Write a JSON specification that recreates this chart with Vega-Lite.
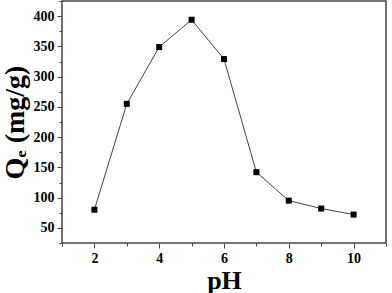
{
  "$schema": "https://vega.github.io/schema/vega-lite/v6.json",
  "width": 324,
  "height": 242,
  "autosize": "none",
  "padding": {"left": 62, "top": 1, "right": 6, "bottom": 50},
  "background": "white",
  "config": {
    "view": {"stroke": "#444444", "strokeWidth": 1.5},
    "font": "Liberation Serif"
  },
  "data": {"values": [
    {"pH": 2, "Qe": 80},
    {"pH": 3, "Qe": 255},
    {"pH": 4, "Qe": 349},
    {"pH": 5, "Qe": 394},
    {"pH": 6, "Qe": 329},
    {"pH": 7, "Qe": 142},
    {"pH": 8, "Qe": 95},
    {"pH": 9, "Qe": 82},
    {"pH": 10, "Qe": 72}
  ]},
  "layer": [
    {
      "mark": {"type": "line", "color": "#444444", "strokeWidth": 1},
      "encoding": {
        "x": {"field": "pH", "type": "quantitative", "scale": {"domain": [1, 11], "nice": false},
          "axis": {"orient": "bottom", "values": [1, 3, 5, 7, 9, 11], "labels": false, "title": null, "grid": false, "domain": false, "tickSize": 3, "tickColor": "#444444", "tickWidth": 1}},
        "y": {"field": "Qe", "type": "quantitative", "scale": {"domain": [25, 425], "nice": false, "zero": false},
          "axis": {"orient": "left", "values": [25, 75, 125, 175, 225, 275, 325, 375, 425], "labels": false, "title": null, "grid": false, "domain": false, "tickSize": 3, "tickColor": "#444444", "tickWidth": 1}}
      }
    },
    {
      "mark": {"type": "square", "color": "black", "size": 36, "opacity": 1, "filled": true},
      "encoding": {
        "x": {"field": "pH", "type": "quantitative",
          "axis": {"orient": "bottom", "values": [2, 4, 6, 8, 10], "title": "pH", "grid": false, "domain": false, "tickSize": 5, "tickColor": "#444444", "tickWidth": 1,
            "labelFont": "Liberation Serif", "labelFontWeight": "bold", "labelFontSize": 14, "labelColor": "black", "labelPadding": 3,
            "titleFont": "Liberation Serif", "titleFontWeight": "bold", "titleFontSize": 26, "titleColor": "black", "titlePadding": 2}},
        "y": {"field": "Qe", "type": "quantitative",
          "axis": {"orient": "left", "values": [50, 100, 150, 200, 250, 300, 350, 400], "title": "Qₑ (mg/g)", "grid": false, "domain": false, "tickSize": 5, "tickColor": "#444444", "tickWidth": 1,
            "labelFont": "Liberation Serif", "labelFontWeight": "bold", "labelFontSize": 14, "labelColor": "black", "labelPadding": 3,
            "titleFont": "Liberation Serif", "titleFontWeight": "bold", "titleFontSize": 28, "titleColor": "black", "titlePadding": 4}}
      }
    }
  ],
  "resolve": {"axis": {"x": "independent", "y": "independent"}}
}
